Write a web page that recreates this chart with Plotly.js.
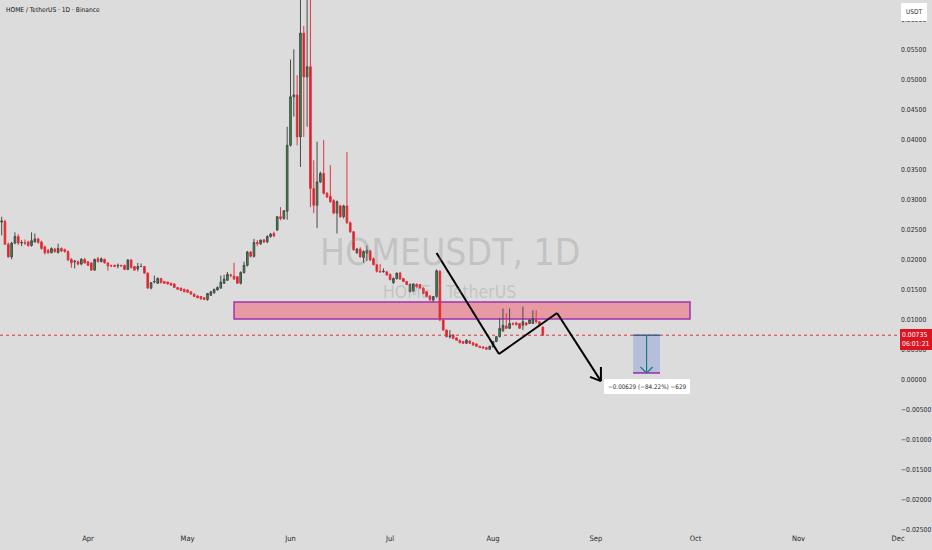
<!DOCTYPE html>
<html>
<head>
<meta charset="utf-8">
<script src="https://cdn.plot.ly/plotly-3.0.1.min.js"></script>
<style>html,body{margin:0;padding:0;background:#dcdcdc;}#chart{width:932px;height:550px;}</style>
</head>
<body>
<div id="chart"></div>
<script>
// ---- data (daily candles, first candle 2025-03-06) ----
const startDate = "2025-03-06";
const opens = [
0.0262,0.0263,0.0225,0.0204,0.0227,0.0238,0.0227,0.0228,0.0229,0.0223,
0.0229,0.0234,0.0229,0.0221,0.0215,0.0211,0.0217,0.0211,0.0218,0.0216,
0.0213,0.0200,0.0196,0.0196,0.0192,0.0200,0.0196,0.0194,0.0182,0.0201,
0.0196,0.0200,0.0194,0.0189,0.0190,0.0189,0.0190,0.0190,0.0183,0.0199,
0.0188,0.0184,0.0188,0.0188,0.0177,0.0152,0.0162,0.0160,0.0168,0.0163,
0.0162,0.0160,0.0159,0.0153,0.0152,0.0150,0.0149,0.0146,0.0142,0.0139,
0.0138,0.0136,0.0133,0.0140,0.0144,0.0149,0.0152,0.0160,0.0165,0.0174,
0.0172,0.0171,0.0160,0.0178,0.0190,0.0212,0.0205,0.0228,0.0226,0.0232,
0.0229,0.0238,0.0243,0.0249,0.0271,0.0268,0.0280,0.0390,0.0471,0.0474,
0.0404,0.0577,0.0504,0.0521,0.0318,0.0290,0.0329,0.0343,0.0310,0.0305,
0.0298,0.0277,0.0289,0.0271,0.0289,0.0261,0.0246,0.0211,0.0217,0.0203,
0.0210,0.0214,0.0201,0.0191,0.0180,0.0179,0.0179,0.0175,0.0161,0.0168,
0.0177,0.0168,0.0163,0.0146,0.0147,0.0158,0.0158,0.0152,0.0146,0.0139,
0.0132,0.0138,0.0180,0.0099,0.0082,0.0071,0.0074,0.0069,0.0065,0.0063,
0.0060,0.0064,0.0061,0.0059,0.0055,0.0054,0.0053,0.0050,0.0054,0.0063,
0.0071,0.0081,0.0089,0.0085,0.0093,0.0094,0.0093,0.0090,0.0094,0.0093,
0.0093,0.0099,0.0096,0.0087];
const highs = [
0.0271,0.0266,0.0228,0.0229,0.0245,0.0242,0.0232,0.0233,0.0231,0.0245,
0.0243,0.0236,0.0231,0.0223,0.0217,0.0220,0.0219,0.0226,0.0220,0.0218,
0.0215,0.0202,0.0199,0.0198,0.0202,0.0202,0.0197,0.0195,0.0201,0.0204,
0.0203,0.0201,0.0195,0.0191,0.0191,0.0193,0.0191,0.0191,0.0200,0.0200,
0.0189,0.0194,0.0193,0.0189,0.0178,0.0162,0.0173,0.0170,0.0169,0.0164,
0.0163,0.0161,0.0160,0.0154,0.0153,0.0151,0.0150,0.0147,0.0143,0.0140,
0.0139,0.0137,0.0144,0.0147,0.0151,0.0155,0.0173,0.0174,0.0179,0.0176,
0.0194,0.0172,0.0180,0.0196,0.0214,0.0214,0.0234,0.0232,0.0233,0.0234,
0.0240,0.0244,0.0246,0.0272,0.0287,0.0282,0.0421,0.0533,0.0550,0.0507,
0.0680,0.0589,0.0660,0.0700,0.0365,0.0396,0.0346,0.0399,0.0312,0.0357,
0.0300,0.0298,0.0291,0.0291,0.0379,0.0263,0.0247,0.0219,0.0220,0.0215,
0.0223,0.0216,0.0203,0.0192,0.0192,0.0185,0.0181,0.0176,0.0170,0.0178,
0.0179,0.0169,0.0164,0.0160,0.0160,0.0160,0.0159,0.0153,0.0147,0.0140,
0.0139,0.0183,0.0182,0.0100,0.0083,0.0082,0.0075,0.0070,0.0066,0.0064,
0.0067,0.0065,0.0062,0.0060,0.0056,0.0055,0.0054,0.0056,0.0064,0.0072,
0.0102,0.0118,0.0110,0.0118,0.0095,0.0096,0.0094,0.0121,0.0095,0.0100,
0.0115,0.0115,0.0097,0.0088];
const lows = [
0.0240,0.0224,0.0203,0.0200,0.0225,0.0224,0.0222,0.0224,0.0221,0.0221,
0.0228,0.0226,0.0216,0.0208,0.0209,0.0210,0.0211,0.0210,0.0212,0.0211,
0.0197,0.0186,0.0185,0.0190,0.0190,0.0193,0.0189,0.0181,0.0181,0.0195,
0.0195,0.0193,0.0181,0.0187,0.0187,0.0185,0.0188,0.0182,0.0182,0.0185,
0.0181,0.0180,0.0187,0.0176,0.0151,0.0150,0.0160,0.0159,0.0160,0.0159,
0.0158,0.0156,0.0152,0.0149,0.0147,0.0145,0.0144,0.0141,0.0137,0.0135,
0.0133,0.0132,0.0131,0.0139,0.0143,0.0148,0.0151,0.0159,0.0164,0.0170,
0.0166,0.0159,0.0158,0.0176,0.0188,0.0203,0.0203,0.0222,0.0224,0.0227,
0.0227,0.0236,0.0237,0.0247,0.0265,0.0266,0.0266,0.0388,0.0438,0.0390,
0.0354,0.0404,0.0421,0.0287,0.0277,0.0252,0.0327,0.0308,0.0302,0.0294,
0.0275,0.0243,0.0269,0.0268,0.0259,0.0244,0.0214,0.0209,0.0203,0.0194,
0.0197,0.0197,0.0190,0.0178,0.0178,0.0178,0.0173,0.0165,0.0159,0.0166,
0.0166,0.0162,0.0157,0.0145,0.0146,0.0153,0.0151,0.0142,0.0137,0.0130,
0.0129,0.0136,0.0097,0.0081,0.0070,0.0068,0.0067,0.0064,0.0060,0.0059,
0.0059,0.0059,0.0056,0.0054,0.0052,0.0051,0.0049,0.0049,0.0053,0.0062,
0.0070,0.0079,0.0084,0.0084,0.0090,0.0090,0.0084,0.0082,0.0089,0.0092,
0.0092,0.0093,0.0090,0.0072];
const closes = [
0.0264,0.0225,0.0204,0.0227,0.0238,0.0227,0.0228,0.0227,0.0223,0.0231,
0.0234,0.0228,0.0218,0.0211,0.0211,0.0218,0.0213,0.0218,0.0214,0.0213,
0.0199,0.0194,0.0197,0.0192,0.0200,0.0194,0.0190,0.0182,0.0200,0.0196,
0.0201,0.0194,0.0189,0.0189,0.0188,0.0190,0.0189,0.0183,0.0199,0.0186,
0.0182,0.0188,0.0188,0.0177,0.0152,0.0161,0.0163,0.0168,0.0161,0.0160,
0.0159,0.0157,0.0153,0.0150,0.0148,0.0146,0.0145,0.0142,0.0138,0.0136,
0.0134,0.0133,0.0143,0.0146,0.0150,0.0153,0.0162,0.0167,0.0175,0.0173,
0.0167,0.0160,0.0178,0.0190,0.0212,0.0205,0.0228,0.0226,0.0232,0.0229,
0.0238,0.0242,0.0239,0.0271,0.0268,0.0281,0.0390,0.0471,0.0474,0.0404,
0.0577,0.0504,0.0521,0.0318,0.0290,0.0329,0.0343,0.0310,0.0304,0.0296,
0.0277,0.0296,0.0271,0.0289,0.0261,0.0246,0.0216,0.0217,0.0204,0.0213,
0.0215,0.0199,0.0191,0.0180,0.0179,0.0180,0.0174,0.0166,0.0168,0.0177,
0.0167,0.0163,0.0158,0.0158,0.0159,0.0154,0.0152,0.0143,0.0138,0.0133,
0.0138,0.0181,0.0099,0.0082,0.0071,0.0072,0.0068,0.0065,0.0061,0.0060,
0.0065,0.0060,0.0057,0.0055,0.0053,0.0052,0.0050,0.0055,0.0063,0.0071,
0.0085,0.0090,0.0085,0.0093,0.0092,0.0091,0.0085,0.0096,0.0091,0.0099,
0.0101,0.0096,0.0091,0.00735];

const lastPrice = 0.00735;
const lastPriceText = "0.00735";
const countdownText = "06:01:21";

// drawings
const zoneDates = ["2025-05-15 00:00", "2025-09-29 08:00"];
const zonePrices = [0.01005, 0.01288];
const patternDates = ["2025-07-15 00:00", "2025-08-02 19:00", "2025-08-20 07:00", "2025-09-02 12:00"];
const patternPrices = [0.02105, 0.00422, 0.01105, -0.0003];
const arrowHeadDates = ["2025-08-30 05:00", "2025-09-02 12:00", "2025-09-02 12:00"];
const arrowHeadPrices = [0.0004, -0.0003, 0.00205];
const measureDates = ["2025-09-12 05:00", "2025-09-20 07:00", "2025-09-16 06:00"];
const measureHeadDates = ["2025-09-14 10:00", "2025-09-16 06:00", "2025-09-18 02:00"];
const measurePrices = [0.00106, 0.00735];
const measureHeadPrices = [0.00206, 0.00106, 0.00206];
const measureLabel = "\u22120.00629 (\u221284.22%) \u2212629";
const measureLabelPrice = -0.00128;

const titleText = "HOME / TetherUS \u00b7 1D \u00b7 Binance";
const watermark1 = "HOMEUSDT, 1D";
const watermark2 = "HOME / TetherUS";

// ---- build ----
const dates = [];
{
  const d0 = new Date(startDate + "T00:00:00Z");
  for (let i = 0; i < opens.length; i++) {
    const d = new Date(d0.getTime() + i * 86400000);
    dates.push(d.toISOString().slice(0, 10));
  }
}

const FONT = "Liberation Sans Narrow, DejaVu Sans Condensed, Liberation Sans, sans-serif";

const trace = {
  type: "candlestick",
  x: dates, open: opens, high: highs, low: lows, close: closes,
  increasing: {line: {color: "#4a4a4a", width: 1}, fillcolor: "#1f9f38"},
  decreasing: {line: {color: "#e2343f", width: 1}, fillcolor: "#dd1420"},
  whiskerwidth: 0,
  hoverinfo: "skip",
  showlegend: false
};

function polyline(xs, ys, line) {
  const out = [];
  for (let i = 1; i < xs.length; i++) {
    out.push({type: "line", xref: "x", yref: "y", x0: xs[i - 1], y0: ys[i - 1], x1: xs[i], y1: ys[i], line: line});
  }
  return out;
}

const mA = measureDates[2];
const shapes = [
  // current price dotted line
  {type: "line", xref: "paper", x0: 0, x1: 1, yref: "y", y0: lastPrice, y1: lastPrice,
   line: {color: "#e0303a", width: 1, dash: "dot"}, layer: "below"},
  // resistance zone (behind candles)
  {type: "rect", xref: "x", yref: "y", x0: zoneDates[0], x1: zoneDates[1], y0: zonePrices[0], y1: zonePrices[1],
   fillcolor: "#e89aa4", line: {color: "#a032b4", width: 1.5}, layer: "below"},
  // measure box
  {type: "rect", xref: "x", yref: "y", x0: measureDates[0], x1: measureDates[1], y0: measurePrices[0], y1: measurePrices[1],
   fillcolor: "rgba(110,135,215,0.35)", line: {width: 0}},
  {type: "line", xref: "x", yref: "y", x0: measureDates[0], x1: measureDates[1], y0: measurePrices[1], y1: measurePrices[1],
   line: {color: "#3d5f8c", width: 1.5}},
  {type: "line", xref: "x", yref: "y", x0: measureDates[0], x1: measureDates[1], y0: measurePrices[0], y1: measurePrices[0],
   line: {color: "#9c27b0", width: 1.5}},
  {type: "line", xref: "x", yref: "y", x0: mA, x1: mA, y0: measurePrices[1], y1: measurePrices[0],
   line: {color: "#1f7a80", width: 1.2}}
].concat(
  polyline(patternDates, patternPrices, {color: "#000000", width: 2}),
  polyline(arrowHeadDates, arrowHeadPrices, {color: "#000000", width: 2}),
  polyline(measureHeadDates, measureHeadPrices, {color: "#1f7a80", width: 1.2})
);

const annotations = [
  {xref: "paper", yref: "paper", x: 0.004, y: 0.993, xanchor: "left", yanchor: "top",
   text: titleText, showarrow: false, font: {family: FONT, size: 6.6, color: "#111111"}},
  {xref: "paper", yref: "paper", x: 0.5, y: 0.526, xanchor: "center", yanchor: "middle",
   text: watermark1, showarrow: false, font: {family: FONT, size: 37, color: "rgba(140,140,140,0.32)"}},
  {xref: "paper", yref: "paper", x: 0.499, y: 0.452, xanchor: "center", yanchor: "middle",
   text: watermark2, showarrow: false, font: {family: FONT, size: 17.5, color: "rgba(140,140,140,0.32)"}},
  {xref: "x", yref: "y", x: mA, y: measureLabelPrice, xanchor: "center", yanchor: "middle",
   text: measureLabel, showarrow: false, bgcolor: "#ffffff", borderpad: 3, bordercolor: "#ffffff",
   font: {family: FONT, size: 6.3, color: "#2a2a2a"}},
  {xref: "paper", yref: "y", x: 1, y: lastPrice, xanchor: "left", yanchor: "top", yshift: 6,
   text: lastPriceText + "<br>" + countdownText, showarrow: false, align: "left",
   bgcolor: "#dd1420", bordercolor: "#dd1420", borderpad: 1,
   font: {family: FONT, size: 6.8, color: "#ffffff"}},
  {xref: "paper", yref: "paper", x: 1, y: 1, xanchor: "left", yanchor: "top", xshift: 1, yshift: -3,
   text: "USDT", showarrow: false, bgcolor: "#ffffff", bordercolor: "#ffffff", borderpad: 4,
   font: {family: FONT, size: 6.5, color: "#2a2a2a"}}
];

const layout = {
  width: 932, height: 550,
  margin: {l: 0, r: 32, t: 0, b: 18},
  paper_bgcolor: "#dcdcdc", plot_bgcolor: "#dcdcdc",
  showlegend: false,
  font: {family: FONT, size: 7, color: "#2a2a2a"},
  xaxis: {
    type: "date", range: ["2025-03-05 12:00", "2025-12-01 14:00"],
    rangeslider: {visible: false}, showgrid: false, zeroline: false, showline: false,
    dtick: "M1", tick0: "2025-01-01", tickformat: "%b", ticks: "", ticklen: 0,
    tickfont: {family: FONT, size: 7.5, color: "#2a2a2a"}
  },
  yaxis: {
    side: "right", range: [-0.02545, 0.06322], dtick: 0.005, tick0: 0, tickformat: ".5f",
    showgrid: false, zeroline: false, showline: false, ticks: "", ticklen: 0,
    tickfont: {family: FONT, size: 6.8, color: "#2a2a2a"}
  },
  shapes: shapes,
  annotations: annotations
};

Plotly.newPlot("chart", [trace], layout, {staticPlot: true, displayModeBar: false});
</script>
</body>
</html>
